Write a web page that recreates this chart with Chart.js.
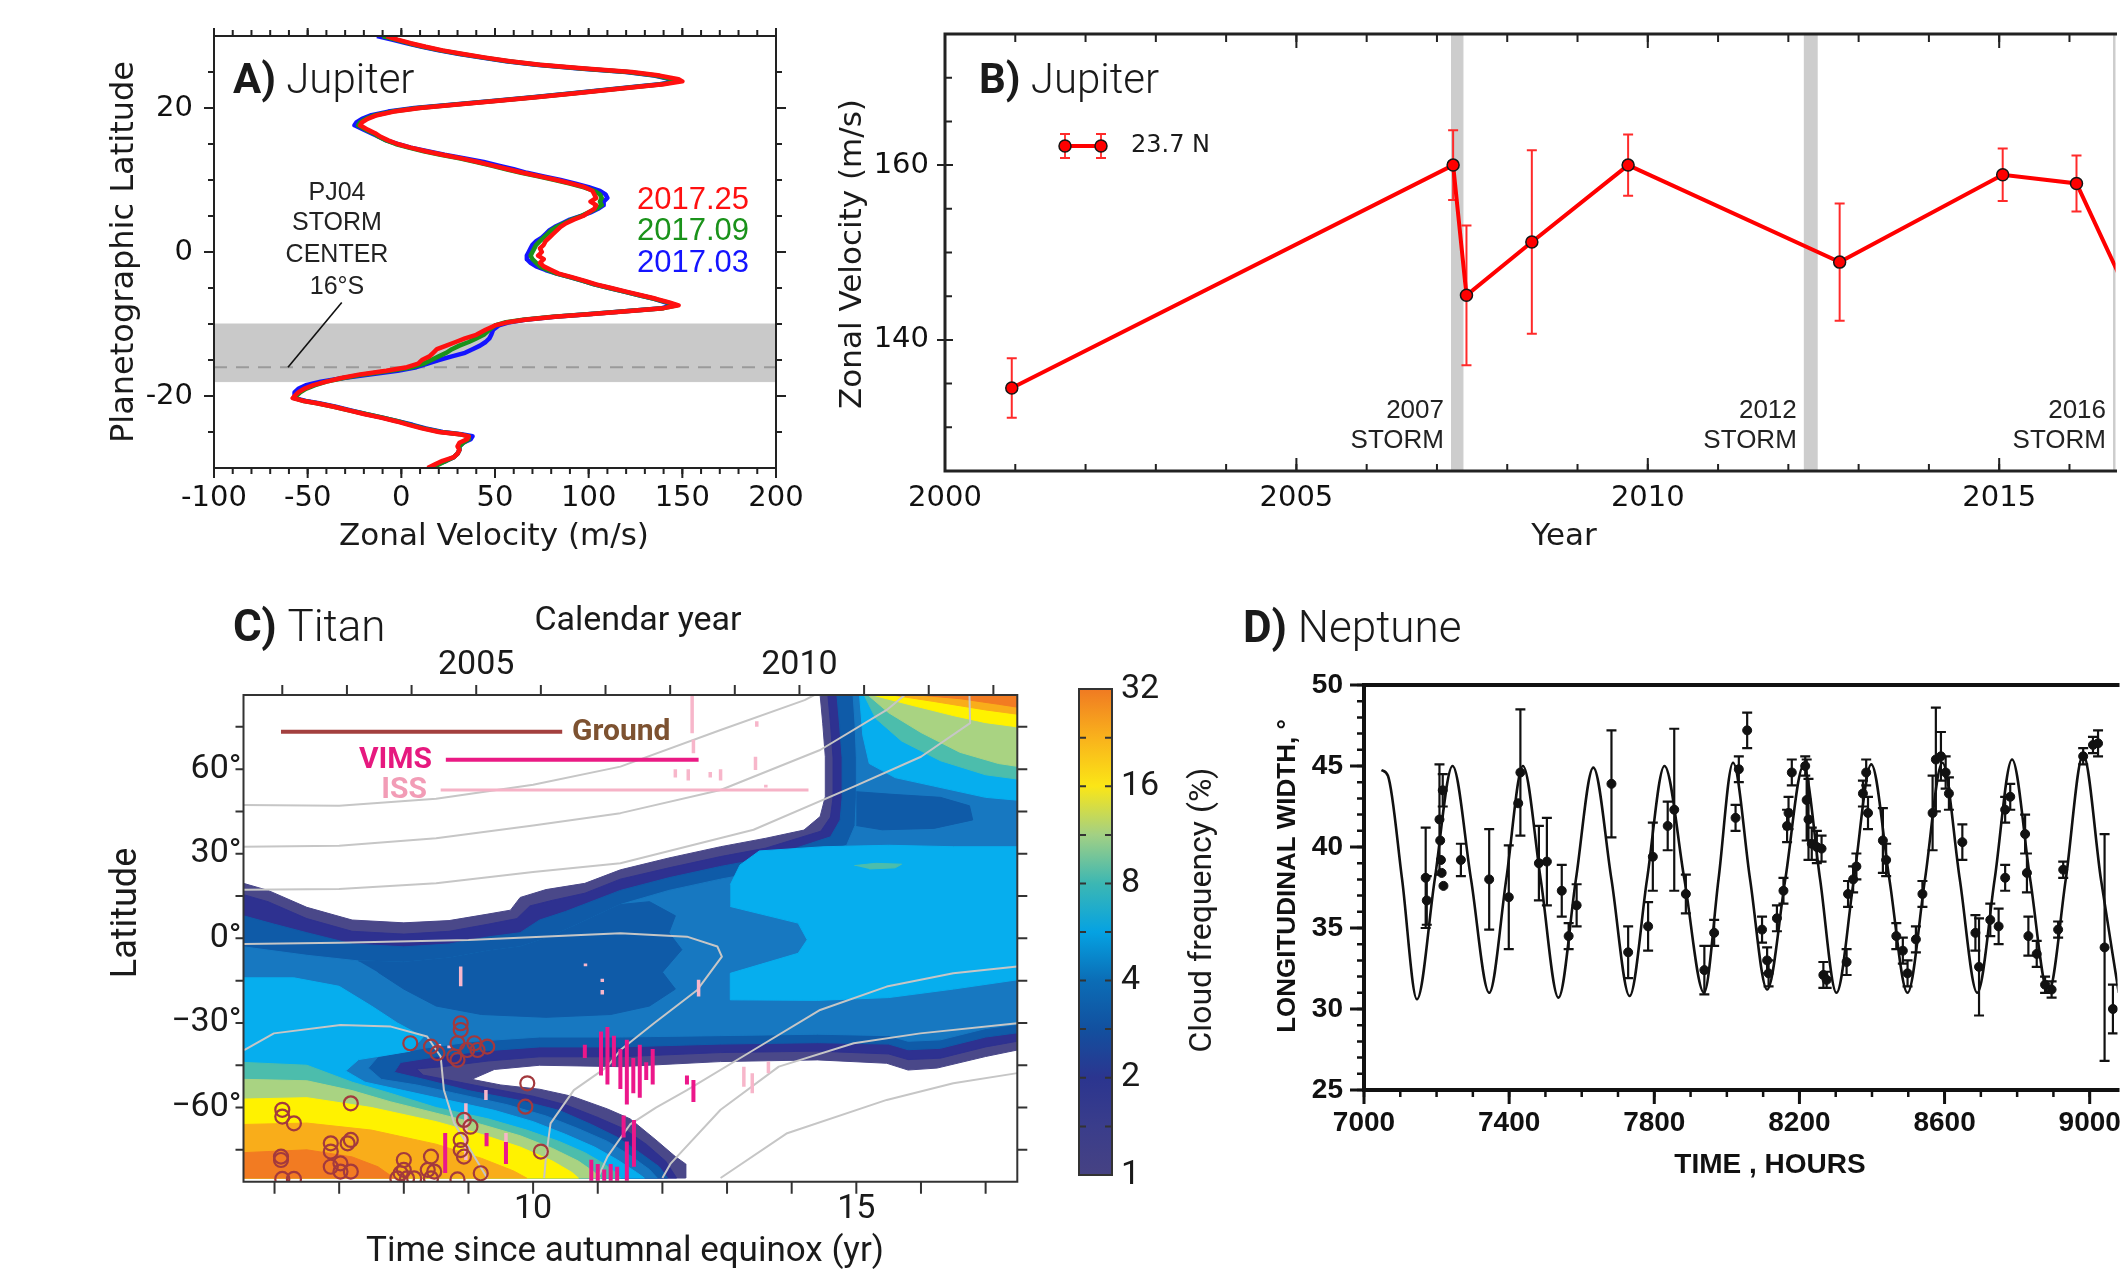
<!DOCTYPE html>
<html>
<head>
<meta charset="utf-8">
<title>Jupiter, Titan and Neptune – four panels</title>
<script src="https://cdn.jsdelivr.net/npm/chart.js@4.4.1/dist/chart.umd.min.js"></script>
<style>
  html, body { margin: 0; padding: 0; background: #ffffff; }
  body { position: relative; width: 2123px; height: 1274px; overflow: hidden; }
  canvas { position: absolute; left: 0; top: 0; }
</style>
</head>
<body>
<canvas id="chartA" width="2123" height="1274"></canvas>
<canvas id="chartB" width="2123" height="1274"></canvas>
<canvas id="chartC" width="2123" height="1274"></canvas>
<canvas id="chartCbar" width="2123" height="1274"></canvas>
<canvas id="chartD" width="2123" height="1274"></canvas>
<script>
// ====================== DATA ======================
// ---- Panel A: Jupiter zonal wind profiles (latitude vs velocity) ----
const latA = [30,29.5,29,28.5,28,27.5,27,26.5,26,25.5,
  25,24.5,24,23.7,23.3,23,22.5,22,21.5,21,
  20.5,20,19.5,19,18.5,18,17.6,17,16.5,16,
  15.5,15,14.5,14,13.5,13,12.5,12,11.5,11,
  10.5,10,9.5,9,8.5,8,7.5,7,6.5,6,
  5.5,5,4.5,4,3.5,3,2.5,2,1.5,1,
  0.5,0,-0.5,-1,-1.5,-2,-2.5,-3,-3.5,-4,
  -4.5,-5,-5.5,-6,-6.5,-7,-7.4,-7.8,-8.2,-8.6,
  -9,-9.4,-9.8,-10.2,-10.8,-11.5,-12,-12.5,-13,-13.5,
  -14,-14.5,-15,-15.5,-16,-16.5,-17,-17.5,-18,-18.5,
  -19,-19.5,-20,-20.3,-20.7,-21,-21.5,-22,-22.5,-23,
  -23.5,-24,-24.5,-25,-25.3,-25.6,-26,-26.5,-27,-27.5,
  -28,-28.5,-29,-29.5,-30];
const vel2017_25 = [-8,-2,5,13,22,33,45,58,74,98,
  123,138,148,150,140,128,110,92,72,52,
  30,10,-4,-13,-18,-21,-22,-18,-14,-11,
  -7,-2,5,13,22,32,41,49,57,65,
  74,83,91,98,102,103,104,101,104,103,
  100,97,92,88,85,83,81,79,77,76,
  74,75,73,76,74,76,80,84,91,98,
  104,112,120,128,136,143,148,140,122,102,
  82,66,56,50,45,40,34,29,24,19,
  17,15,11,9,3,-8,-22,-32,-40,-47,
  -52,-55,-57,-58,-52,-45,-36,-28,-20,-11,
  -3,4,11,20,31,36,35,31,30,31,
  30,28,22,18,14];
const vel2017_09 = [-10,-3,4,12,21,32,44,57,73,96,
  121,136,145,147,139,127,109,91,71,51,
  29,9,-5,-14,-19,-22,-23,-19,-15,-12,
  -8,-3,4,12,21,31,40,48,56,64,
  73,82,90,97,103,106,107,106,107,104,
  100,96,91,87,83,80,78,76,74,72,
  71,70,69,70,72,74,78,83,90,97,
  103,111,119,127,135,142,147,140,121,101,
  81,65,55,50,47,44,40,36,31,27,
  24,20,16,12,6,-6,-20,-31,-40,-46,
  -51,-54,-56,-57,-52,-45,-36,-28,-19,-10,
  -2,5,12,21,31,36,36,33,31,31,
  30,28,24,20,16];
const vel2017_03 = [-13,-5,3,11,20,31,43,56,72,95,
  120,135,144,146,138,126,108,90,70,50,
  28,7,-7,-16,-21,-24,-25,-20,-16,-12,
  -8,-2,5,14,23,34,44,52,60,67,
  76,85,93,100,106,109,110,108,108,105,
  101,96,90,86,82,79,77,75,72,70,
  69,68,67,67,69,72,77,83,90,97,
  103,111,119,127,135,141,145,139,121,101,
  82,66,57,52,49,48,47,45,42,38,
  34,27,20,14,8,-2,-17,-31,-43,-51,
  -55,-57,-57,-57,-51,-44,-35,-27,-19,-10,
  -2,6,13,22,32,38,37,33,31,31,
  30,28,24,19,15];
const stormBandLatA = [-18, -10];
const stormCenterLatA = -16;
const stormLeaderA = [[-31.8, -7.0], [-60.5, -16.0]];
const xRangeA = [-100, 200], yRangeA = [-30, 30];
const xTickLabelsA = [-100, -50, 0, 50, 100, 150, 200];
const yTickLabelsA = [-20, 0, 20];

// ---- Panel B: Jupiter 23.7 N jet speed vs year ----
const yearB = [2000.95, 2007.23, 2007.42, 2008.35, 2009.72, 2012.73, 2015.05, 2016.10, 2017.05];
const velB  = [134.5, 160.0, 145.1, 151.2, 160.0, 148.9, 158.9, 157.9, 141.5];
const errB  = [3.4, 4.0, 8.0, 10.5, 3.5, 6.7, 3.0, 3.2, 4.0];
const stormBandsB = [[2007.20, 2007.37], [2012.22, 2012.41], [2016.62, 2016.80]];
const stormLabelsB = ['2007', '2012', '2016'];
const xRangeB = [2000, 2016.655], yRangeB = [125, 175];
const xTickLabelsB = [2000, 2005, 2010, 2015];
const yTickLabelsB = [140, 160];

// ---- Panel C: Titan cloud frequency map (time since equinox, latitude) ----
const xRangeC = [5.52, 17.49], yRangeC = [-86.3, 86.3];
const calendarOffsetC = 1995.88;
const xTickLabelsC = [10, 15];
const calTickLabelsC = [2005, 2010];
const yTickLabelsC = [-60, -30, 0, 30, 60];
const titanColors = ['#4a4889', '#2e3190', '#0f5ba8', '#1778c1', '#06aeee',
                     '#4cbdac', '#a9d382', '#fff200', '#f9ad1a', '#f27b22'];
const titanR1 = [[5.52,19.5],[5.9,17],[6.5,11],[7.2,6.5],[8.0,5.5],[8.7,6.3],[9.3,8.6],[9.65,10],[9.8,14.5],[10.2,17.3],[10.8,19.5],[11.35,24.3],[12.1,28.5],[12.9,32.5],[13.6,35.5],[14.19,38.4],[14.44,43.2],[14.52,50.3],[14.52,64.4],[14.48,76.3],[14.44,86.3],[17.49,86.3],[17.49,-39.6],[17.0,-41.9],[16.25,-46],[15.8,-46.7],[15.47,-44.3],[14.4,-43.1],[12.9,-43.7],[11.35,-45.5],[10.1,-45],[9.4,-46.5],[9.05,-50],[9.5,-52],[10.1,-53.5],[10.6,-56],[11.15,-60.5],[11.5,-64],[11.9,-71.5],[12.2,-77.4],[12.36,-80],[12.36,-85],[5.52,-85]];
const titanR2 = [[5.52,15.5],[5.9,13],[6.5,7],[7.2,2.5],[8.0,1.5],[8.7,2.5],[9.3,5],[9.75,7],[9.95,11.5],[10.3,13.5],[10.8,16],[11.35,21],[12.1,25],[12.9,29],[13.6,32],[14.45,38],[14.6,43],[14.64,50],[14.64,64],[14.6,76],[14.56,86.3],[17.49,86.3],[17.49,-36.5],[17.0,-38.5],[16.3,-42.5],[15.8,-43],[15.5,-41],[14.4,-40],[12.9,-40.5],[11.35,-42],[10.1,-42],[9.3,-43.5],[8.6,-45.5],[8.2,-46.3],[8.3,-48.5],[8.75,-50.5],[9.3,-53],[10.0,-56],[10.5,-59],[11.0,-63.5],[11.4,-67.5],[11.75,-73],[12.05,-79],[12.22,-85],[5.52,-85]];
const titanR3 = [[5.52,8],[6.0,5],[6.5,2],[7.2,-2],[8.0,-3],[8.7,-2],[9.3,0.5],[9.8,2],[10.1,6.5],[10.5,9.5],[11.35,17],[12.1,21.5],[12.9,25.5],[13.6,28.5],[14.6,36],[14.75,42],[14.78,50],[14.78,64],[14.74,76],[14.7,86.3],[17.49,86.3],[17.49,-33.5],[17.0,-35],[16.3,-39],[15.8,-39.5],[15.5,-37.5],[14.4,-37],[12.9,-37.5],[11.35,-38.5],[10.1,-38.5],[9.2,-40],[8.5,-42],[7.95,-44],[7.85,-47.5],[8.4,-50.5],[9.0,-54],[9.8,-57.5],[10.4,-61],[10.9,-66],[11.3,-70.5],[11.65,-76],[11.95,-81],[12.08,-85],[5.52,-85]];
const titanR4 = [[5.52,-3],[6.5,-6],[7.3,-8],[8.0,-8.5],[8.7,-7],[9.3,-4.5],[9.8,-3],[10.2,0],[10.6,4],[11.35,12],[12.1,17],[12.9,21],[13.6,24],[14.85,33],[14.98,40],[15.0,50],[15.0,64],[14.98,76],[14.95,86.3],[17.49,86.3],[17.49,-30.5],[17.0,-32],[16.3,-36],[15.8,-36.5],[15.5,-34.5],[14.4,-34],[12.9,-34.5],[11.35,-35],[10.1,-35],[9.1,-36.5],[8.3,-39],[7.6,-42],[7.45,-46],[7.65,-50],[8.2,-52],[8.8,-55],[9.6,-59],[10.2,-63],[10.7,-67.5],[11.15,-72],[11.5,-77],[11.8,-82],[11.92,-85],[5.52,-85]];
const titanDarkMid = [[7.3,-8],[8.0,-8.5],[8.7,-7],[9.3,-4.5],[9.8,-3],[10.2,0],[10.6,4],[11.35,12],[11.8,13],[12.2,8],[12.1,2],[12.3,-4],[12.0,-12],[12.2,-18],[11.8,-24],[11.2,-27],[10.2,-28],[9.2,-27],[8.5,-24],[8.0,-18],[7.6,-12]];
const titanDarkTopRight = [[15.0,52],[15.6,51],[16.3,50],[16.75,47],[16.8,42],[16.2,39],[15.4,38.5],[15.0,40]];
const titanR5mid = [[13.05,19],[13.2,26],[13.5,31],[14.5,32.5],[15.5,33],[16.5,32.5],[17.49,32.5],[17.49,-14.7],[16.5,-18],[15.5,-21],[14.4,-22],[13.05,-21.8],[13.05,-12.4],[14.1,-5.3],[14.24,-0.5],[14.1,5.4],[13.05,11.3]];
const titanR5ll = [[5.52,-14],[6.3,-14],[7.0,-17],[7.5,-24],[7.9,-30],[8.3,-35],[8.1,-40],[7.3,-43],[7.1,-47],[7.4,-51],[8.0,-54],[8.6,-57],[9.4,-61],[10.0,-65],[10.5,-69.5],[10.95,-74],[11.3,-78.5],[11.6,-83],[11.72,-85],[5.52,-85]];
const titanR5tr = [[15.05,86.3],[15.1,72],[15.2,62],[15.6,57],[16.2,54],[17.0,50],[17.49,49],[17.49,86.3]];
const titanR6ll = [[5.52,-44],[6.5,-45],[7.2,-51],[7.8,-55],[8.5,-60],[9.3,-64],[9.9,-68],[10.4,-72],[10.8,-76],[11.1,-80],[11.3,-83.5],[11.35,-85],[5.52,-85]];
const titanR6tr = [[15.12,86.3],[15.3,78],[15.7,70],[16.3,63],[17.0,58],[17.49,56.5],[17.49,86.3]];
const titanR6patch = [[14.97,25.8],[15.3,26.6],[15.7,26.3],[15.6,25],[15.2,24.6]];
const titanR7ll = [[5.52,-50],[6.5,-50.5],[7.2,-54],[7.8,-58],[8.5,-62],[9.2,-66],[9.8,-70],[10.3,-74.5],[10.7,-79],[10.95,-83],[11.05,-85],[5.52,-85]];
const titanR7tr = [[15.18,86.3],[15.5,80],[16.0,73],[16.6,66],[17.2,62],[17.49,61],[17.49,86.3]];
const titanR8ll = [[5.52,-57],[6.5,-56.5],[7.5,-60],[8.5,-65],[9.2,-69.5],[9.8,-74],[10.3,-79],[10.6,-83],[10.7,-85],[5.52,-85]];
const titanR8tr = [[15.25,86.3],[15.8,83],[16.5,79],[17.0,76.5],[17.49,75],[17.49,86.3]];
const titanR9ll = [[5.52,-66],[6.5,-65.5],[7.5,-68],[8.5,-73],[9.2,-78],[9.7,-82.5],[9.9,-85],[5.52,-85]];
const titanR9tr = [[15.55,86.3],[16.2,84],[17.0,81],[17.49,79.5],[17.49,86.3]];
const titanR10ll = [[5.52,-76],[6.5,-75],[7.2,-77.5],[7.6,-81],[7.85,-85],[5.52,-85]];
const titanR10tr = [[15.95,86.3],[16.6,85],[17.2,83],[17.49,82],[17.49,86.3]];
const titanFillOrder = [
  [titanR1,0],[titanR2,1],[titanR3,2],[titanR4,3],[titanDarkMid,2],[titanDarkTopRight,2],
  [titanR5mid,4],[titanR5ll,4],[titanR5tr,4],[titanR6ll,5],[titanR6tr,5],[titanR6patch,5],
  [titanR7ll,6],[titanR7tr,6],[titanR8ll,7],[titanR8tr,7],[titanR9ll,8],[titanR9tr,8],
  [titanR10ll,9],[titanR10tr,9]];
const titanIsoA = [[5.52,47.3],[7.0,47],[8.5,49.5],[10.0,54.5],[11.35,60.9],[12.9,73.9],[14.2,84.5],[14.35,86.3]];
const titanIsoB = [[5.52,32.5],[7.0,32.8],[8.5,35.5],[10.0,40],[11.35,44.4],[12.9,52.6],[14.44,66.8],[15.47,81],[15.75,86.3]];
const titanIsoC = [[5.52,17.2],[7.0,17.5],[8.5,19.5],[10.0,23.5],[11.35,26.6],[13.41,38.5],[14.96,53.8],[16.0,64.4],[16.76,76.3],[16.75,86.3]];
const titanIsoD = [[5.52,-2],[7.0,-1.6],[9.0,-0.6],[11.35,1.8],[12.38,0.6],[12.85,-2.9],[12.92,-6.5],[12.54,-18.3],[11.87,-30.1],[11.35,-39.6],[11.15,-45.5],[10.63,-53.8],[10.27,-65.6],[10.2,-77.4],[10.17,-85]];
const titanIsoE = [[5.53,-39.6],[5.99,-33.7],[7.02,-30.7],[7.8,-31.3],[8.36,-34.8],[8.57,-41.9],[8.62,-53.8],[8.78,-65.6],[9.09,-77.4],[9.29,-85]];
const titanIsoF = [[11.0,-85],[11.15,-77.4],[11.5,-66],[11.9,-60],[12.38,-53.8],[13.41,-39.6],[14.44,-25.4],[15.47,-17.1],[16.5,-12.4],[17.49,-10]];
const titanIsoG = [[12.0,-85],[12.13,-79.8],[12.9,-60.8],[13.8,-45.5],[14.96,-37.2],[15.99,-33.7],[17.49,-30.1]];
const titanIsoH = [[12.9,-85],[13.93,-69.1],[15.47,-57.3],[16.5,-51.4],[17.49,-47.8]];
const titanIsolines = [titanIsoA, titanIsoB, titanIsoC, titanIsoD, titanIsoE, titanIsoF, titanIsoG, titanIsoH];
const titanGround = [[6.12,-60.8],[6.12,-63.2],[6.3,-65.6],[7.18,-58.5],[6.1,-77.4],[6.1,-78.6],[6.12,-85.3],[6.3,-85.3],[6.87,-72.7],[6.87,-75.6],[7.02,-79.8],[7.13,-72.7],[7.18,-71.5],[6.87,-81],[7.02,-82.7],[7.18,-82.7],[8.0,-78.6],[7.95,-83.3],[7.9,-85.1],[8.05,-85.1],[8.16,-85.1],[8.0,-82.1],[8.42,-77.4],[8.37,-82.1],[8.47,-82.7],[8.42,-85.1],[8.83,-85.5],[8.1,-37.2],[8.42,-38.4],[8.52,-40.7],[8.88,-30.1],[8.88,-32.5],[8.83,-37.2],[8.98,-39.6],[9.09,-37.2],[9.14,-39.6],[9.29,-38.4],[8.78,-41.9],[8.83,-43.1],[9.91,-51.4],[9.88,-59.7],[8.93,-64.4],[9.03,-66.8],[8.88,-71.5],[8.88,-75.1],[8.93,-77.4],[9.19,-83.3],[10.12,-75.6]];
const titanVIMS = [[11.05,-48.6,-33],[11.15,-51.8,-31.4],[11.25,-45.5,-34.5],[11.35,-53.4,-39.2],[11.45,-58.9,-36],[11.55,-54.9,-42.4],[11.65,-56.5,-37.7],[11.75,-50.2,-43.9],[11.85,-51.8,-39.2],[12.38,-51.8,-48.6],[12.48,-58,-50.2],[10.8,-42.4,-37.7],[8.64,-83.2,-69],[9.28,-73.7,-69],[9.58,-80,-72.2],[10.9,-86,-78.5],[11.0,-86,-80],[11.1,-86,-82],[11.2,-86,-80],[11.3,-86,-81],[11.4,-70.6,-62.8],[11.45,-86,-72],[11.56,-81,-64.4]];
const titanISS = [[8.88,-17,-10],[10.81,-9.9,-8.9],[11.07,-15.5,-14.3],[11.07,-19.9,-18.3],[9.27,-57.3,-53.8],[8.96,-78.6,-58.5],[9.58,-79.8,-69],[12.46,72.7,86],[12.48,65.6,70.4],[13.46,75,77],[13.44,59.7,64.4],[12.2,57,60],[12.4,56,60],[12.74,57,59],[12.9,56,60],[13.6,53.5,54.5],[12.56,-20.6,-14.7],[13.26,-52.6,-45.5],[13.39,-54.9,-47.8],[13.64,-47.8,-43.7],[8.55,-38.5,-37.5],[8.7,-39,-38]];
const titanLegendGround = [[6.10,73.3],[10.45,73.3]];
const titanLegendVIMS = [[8.65,63.3],[12.56,63.3]];
const titanLegendISS = [[8.57,52.6],[14.26,52.6]];
// colour bar (cloud frequency %, log scale)
const cbarTicks = [1, 2, 4, 8, 16, 32];
const cbarStopValues = [1, 1.41, 2, 2.83, 4, 5.66, 8, 11.3, 16, 22.6, 32];
const cbarStopColors = ['#464283', '#3a3d8b', '#2b358f', '#12509f', '#0b6db6', '#05a2e2',
                        '#3cb7b3', '#a2d084', '#fbe616', '#f9b21c', '#f07a22'];

// ---- Panel D: Neptune longitudinal width vs time ----
const xRangeD = [7000, 9076.6], yRangeD = [25, 50];
const xTickLabelsD = [7000, 7400, 7800, 8200, 8600, 9000];
const yTickLabelsD = [25, 30, 35, 40, 45, 50];
const modelTimeD = [7048,7066,7105,7146,7195,7244,7295,7345,7392,7438,7487,7536,7584,7632,7682,7732,7780,7828,7883,7937,7977,8017,8064,8111,8161,8211,8257,8302,8350,8398,8448,8498,8546,8594,8642,8690,8738,8786,8836,8886,8934,8982,9031,9080];
const modelWidthD = [44.75,44.4,38,30.6,38,45,38,31,38,45,38,30.7,38,44.9,38,30.8,38,45,38,31,38,45.2,38,31.2,38,45,38,31,38,45.1,38,31,38,45.2,38,31,38,45.4,38,31,38,45.7,38,31];
const obsTimeD = [7170,7173,7208,7210,7212,7214,7217,7219,7267,7345,7399,7425,7431,7482,7504,7545,7564,7586,7682,7728,7783,7796,7837,7855,7887,7938,7965,
  8024,8033,8056,8097,8111,8115,8138,8156,8166,8170,8179,8216,8220,8225,8234,8248,8261,8266,8275,8330,8334,8348,8357,8375,8384,8389,8430,8439,8467,8485,8498,8521,8539,
  8567,8576,8590,8603,8612,8649,8685,8695,8726,8749,8767,8767,8781,8822,8827,8831,8854,8877,8895,8913,8927,8982,9009,9023,9041,9064];
const obsWidthD = [38.1,36.7,41.7,40.4,39.2,38.4,43.5,37.6,39.2,38.0,36.9,42.7,44.6,39.0,39.1,37.3,34.5,36.4,43.9,33.5,35.1,39.4,41.3,42.3,37.1,32.4,34.7,
  41.8,44.8,47.2,34.9,33.0,32.2,35.6,37.3,41.3,42.1,44.6,45.0,42.9,41.7,40.2,40.0,39.9,32.1,31.8,32.9,37.1,38.0,38.8,43.3,44.6,42.1,40.4,39.2,34.5,33.6,32.2,34.3,37.1,
  42.1,45.4,45.6,44.6,43.3,40.3,34.7,32.6,35.5,35.1,38.1,42.3,43.1,40.8,38.4,34.5,33.4,31.5,31.2,34.9,38.6,45.6,46.3,46.4,33.8,30.0];
const obsErrD = [3.1,1.5,3.4,0,0,0,1.0,0,1.0,3.1,3.2,0,3.9,2.3,2.7,1.6,0.8,1.3,3.3,1.6,1.5,2.1,1.5,5.0,1.2,1.5,0.8,
  0.8,0.8,1.1,0.8,0.8,0.8,0.8,0.8,1.0,1.0,0.8,0.6,2.5,2.5,1.0,1.0,0.8,0.8,0.5,0.8,0.8,0.8,0.8,0.8,0.8,1.0,2.0,1.0,0.8,0.8,0.8,0.8,0.8,
  2.3,3.2,1.5,1.0,1.0,1.1,1.1,3.0,1.0,1.1,0.8,0.8,0.8,1.2,1.2,1.2,0.8,0.5,0.5,0.5,0.5,0.5,0.5,0.8,7.0,1.5];

// ====================== HELPERS ======================
const PAGE_W = 2123, PAGE_H = 1274;
const DEJAVU = "'DejaVu Sans'", LIB = "'Liberation Sans'", ROBOTO = "Roboto";
Chart.defaults.animation = false;
Chart.defaults.responsive = false;
Chart.defaults.events = [];
Chart.defaults.plugins.legend.display = false;
Chart.defaults.plugins.tooltip.enabled = false;
Chart.defaults.font.family = DEJAVU;
Chart.defaults.color = '#1a1a1a';

const range = (a, b, s) => { const r = []; for (let v = a; v <= b + 1e-9; v += s) r.push(+v.toFixed(6)); return r; };
const xy = arr => arr.map(p => ({x: p[0], y: p[1]}));
const zipXY = (xs, ys) => xs.map((x, i) => ({x, y: ys[i]}));
const fixAxis = size => s => {
  if (s.isHorizontal()) s.height = size; else s.width = size;
  s.paddingLeft = 0; s.paddingRight = 0; s.paddingTop = 0; s.paddingBottom = 0;
};
const useTicks = vals => s => { s.ticks = vals.map(v => ({value: v})); };
const f = (size, family, weight) => `${weight || 'normal'} ${size}px ${family}`;

function axis(opts) {
  return Object.assign({
    type: 'linear',
    grid: {display: false, drawTicks: false},
    border: {display: false},
  }, opts);
}

// frame + custom tick marks drawn through the chart's scales
const frameTicksPlugin = {
  id: 'frameTicks',
  afterDatasetsDraw(chart, args, o) {
    const {ctx, chartArea: a} = chart;
    ctx.save();
    ctx.lineCap = 'butt';
    (o.ticks || []).forEach(t => {
      const sc = chart.scales[t.scale];
      ctx.strokeStyle = t.color || o.color || '#222';
      ctx.lineWidth = t.width || 2;
      ctx.beginPath();
      t.values.forEach(v => {
        if (v < Math.min(sc.min, sc.max) - 1e-9 || v > Math.max(sc.min, sc.max) + 1e-9) return;
        const p = sc.getPixelForValue(v);
        const L = t.len;
        const s0 = t.dir === 'both' ? -L : 0;
        const s1 = t.dir === 'in' ? -L : L;
        if (t.side === 'bottom') { ctx.moveTo(p, a.bottom + s0); ctx.lineTo(p, a.bottom + s1); }
        if (t.side === 'top') { ctx.moveTo(p, a.top - s0); ctx.lineTo(p, a.top - s1); }
        if (t.side === 'left') { ctx.moveTo(a.left - s0, p); ctx.lineTo(a.left - s1, p); }
        if (t.side === 'right') { ctx.moveTo(a.right + s0, p); ctx.lineTo(a.right + s1, p); }
      });
      ctx.stroke();
    });
    if (o.frame) {
      ctx.strokeStyle = o.frame.color; ctx.lineWidth = o.frame.width; ctx.lineCap = 'square';
      ctx.beginPath();
      const sides = o.frame.sides;
      if (sides.includes('top')) { ctx.moveTo(a.left, a.top); ctx.lineTo(a.right, a.top); }
      if (sides.includes('bottom')) { ctx.moveTo(a.left, a.bottom); ctx.lineTo(a.right, a.bottom); }
      if (sides.includes('left')) { ctx.moveTo(a.left, a.top); ctx.lineTo(a.left, a.bottom); }
      if (sides.includes('right')) { ctx.moveTo(a.right, a.top); ctx.lineTo(a.right, a.bottom); }
      ctx.stroke();
    }
    ctx.restore();
  }
};

// free text (titles, annotations); positions in page px, or in data units when item.data is set
const textPlugin = {
  id: 'pageText',
  afterDraw(chart, args, o) {
    const ctx = chart.ctx;
    (o.items || []).forEach(it => {
      ctx.save();
      let x = it.x, y = it.y;
      if (it.data) {
        x = chart.scales[it.xAxis || 'x'].getPixelForValue(it.x);
        y = chart.scales[it.yAxis || 'y'].getPixelForValue(it.y);
      }
      ctx.translate(x, y);
      if (it.rotate) ctx.rotate(it.rotate * Math.PI / 180);
      ctx.textBaseline = 'middle';
      ctx.textAlign = 'left';
      const runs = it.runs || [{text: it.text, font: it.font, color: it.color}];
      let total = 0;
      runs.forEach(r => { ctx.font = r.font || it.font; r._w = ctx.measureText(r.text).width; total += r._w; });
      let cx = it.align === 'center' ? -total / 2 : (it.align === 'right' ? -total : 0);
      runs.forEach(r => {
        ctx.font = r.font || it.font;
        ctx.fillStyle = r.color || it.color || '#1a1a1a';
        ctx.fillText(r.text, cx, 0);
        cx += r._w;
      });
      ctx.restore();
    });
  }
};

// vertical error bars with caps, read from dataset.errorBars
const errorBarsPlugin = {
  id: 'errorBars',
  beforeDatasetDraw(chart, args) {
    const ds = chart.data.datasets[args.index];
    if (!ds.errorBars) return;
    const meta = args.meta, xs = chart.scales[meta.xAxisID], ys = chart.scales[meta.yAxisID];
    const a = chart.chartArea, ctx = chart.ctx;
    ctx.save();
    ctx.beginPath(); ctx.rect(a.left, a.top, a.right - a.left, a.bottom - a.top); ctx.clip();
    ctx.strokeStyle = ds.errorColor; ctx.lineWidth = ds.errorWidth;
    const cap = ds.errorCap;
    ctx.beginPath();
    ds.data.forEach((d, i) => {
      const e = ds.errorBars[i];
      if (!e) return;
      const x = xs.getPixelForValue(d.x);
      const yt = ys.getPixelForValue(d.y + e), yb = ys.getPixelForValue(d.y - e);
      ctx.moveTo(x, yt); ctx.lineTo(x, yb);
      ctx.moveTo(x - cap, yt); ctx.lineTo(x + cap, yt);
      ctx.moveTo(x - cap, yb); ctx.lineTo(x + cap, yb);
    });
    ctx.stroke();
    ctx.restore();
  }
};

function polygonDataset(points, color, order) {
  return {data: xy(points), showLine: true, fill: 'shape', backgroundColor: color,
          borderColor: color, borderWidth: 1, pointRadius: 0, order};
}
function lineDataset(points, color, width, order, extra) {
  return Object.assign({data: xy(points), showLine: true, fill: false, borderColor: color,
          borderWidth: width, pointRadius: 0, order, borderJoinStyle: 'round'}, extra || {});
}

// ====================== PANEL A ======================
(function () {
  const area = {x0: 214, y0: 36, x1: 776, y1: 468};
  const wL = 214, hB = 100;
  const bandPoly = [[xRangeA[0], stormBandLatA[0]], [xRangeA[1], stormBandLatA[0]], [xRangeA[1], stormBandLatA[1]], [xRangeA[0], stormBandLatA[1]]];
  const dashLine = [[xRangeA[0], stormCenterLatA], [xRangeA[1], stormCenterLatA]];
  new Chart(document.getElementById('chartA'), {
    type: 'scatter',
    data: {datasets: [
      polygonDataset(bandPoly, '#c9c9c9', 20),
      lineDataset(dashLine, '#9a9a9a', 2, 19, {borderDash: [13, 9]}),
      lineDataset(stormLeaderA, '#111111', 1.6, 18),
      {label: '2017.03', data: zipXY(vel2017_03, latA), showLine: true, borderColor: '#1414ff', borderWidth: 4.5, pointRadius: 0, order: 7, borderJoinStyle: 'round'},
      {label: '2017.09', data: zipXY(vel2017_09, latA), showLine: true, borderColor: '#1a921a', borderWidth: 4.5, pointRadius: 0, order: 6, borderJoinStyle: 'round'},
      {label: '2017.25', data: zipXY(vel2017_25, latA), showLine: true, borderColor: '#ff1010', borderWidth: 4.5, pointRadius: 0, order: 5, borderJoinStyle: 'round'},
    ]},
    options: {
      layout: {padding: {left: area.x0 - wL, top: area.y0, right: PAGE_W - area.x1, bottom: PAGE_H - area.y1 - hB}},
      scales: {
        x: axis({position: 'bottom', min: xRangeA[0], max: xRangeA[1], afterBuildTicks: useTicks(xTickLabelsA), afterFit: fixAxis(hB),
          ticks: {font: {family: DEJAVU, size: 29}, color: '#111', padding: 13, maxRotation: 0, autoSkip: false, callback: v => String(v)}}),
        y: axis({position: 'left', min: yRangeA[0], max: yRangeA[1], afterBuildTicks: useTicks(yTickLabelsA), afterFit: fixAxis(wL),
          ticks: {font: {family: DEJAVU, size: 29}, color: '#111', padding: 21, autoSkip: false, callback: v => String(v)}}),
      },
      plugins: {
        frameTicks: {
          frame: {sides: ['top', 'bottom', 'left', 'right'], color: '#222', width: 2},
          ticks: [
            {scale: 'x', side: 'bottom', values: range(-100, 200, 10), len: 6, dir: 'out'},
            {scale: 'x', side: 'bottom', values: xTickLabelsA, len: 10, dir: 'out'},
            {scale: 'x', side: 'top', values: range(-100, 200, 10), len: 6, dir: 'out'},
            {scale: 'x', side: 'top', values: xTickLabelsA, len: 8, dir: 'out'},
            {scale: 'y', side: 'left', values: range(-25, 25, 5), len: 6, dir: 'out'},
            {scale: 'y', side: 'left', values: yTickLabelsA, len: 10, dir: 'out'},
            {scale: 'y', side: 'right', values: range(-25, 25, 5), len: 6, dir: 'out'},
            {scale: 'y', side: 'right', values: yTickLabelsA, len: 10, dir: 'out'},
          ]
        },
        pageText: {items: [
          {x: 233, y: 82, runs: [{text: 'A)', font: f(42, ROBOTO, 'bold')}, {text: ' Jupiter', font: f(42, ROBOTO, '300')}], color: '#1a1a1a'},
          {x: 337, y: 193, text: 'PJ04', font: f(25, LIB), align: 'center', color: '#222'},
          {x: 337, y: 223, text: 'STORM', font: f(25, LIB), align: 'center', color: '#222'},
          {x: 337, y: 255, text: 'CENTER', font: f(25, LIB), align: 'center', color: '#222'},
          {x: 337, y: 287, text: '16°S', font: f(25, LIB), align: 'center', color: '#222'},
          {x: 693, y: 200, text: '2017.25', font: f(31, LIB), align: 'center', color: '#ff1010'},
          {x: 693, y: 231, text: '2017.09', font: f(31, LIB), align: 'center', color: '#1a921a'},
          {x: 693, y: 263, text: '2017.03', font: f(31, LIB), align: 'center', color: '#1414ff'},
          {x: 494, y: 537, text: 'Zonal Velocity (m/s)', font: f(31, DEJAVU), align: 'center'},
          {x: 125, y: 252, text: 'Planetographic Latitude', font: f(32, DEJAVU), align: 'center', rotate: -90},
        ]}
      }
    },
    plugins: [frameTicksPlugin, textPlugin, errorBarsPlugin]
  });
})();

// ====================== PANEL B ======================
(function () {
  const area = {x0: 945, y0: 34, x1: PAGE_W, y1: 471};
  const wL = 200, hB = 100;
  const legendBPlugin = {
    id: 'legendB',
    afterDraw(chart, args, o) {
      const ctx = chart.ctx, ds = chart.data.datasets[o.datasetIndex];
      ctx.save();
      ctx.strokeStyle = ds.borderColor; ctx.lineWidth = 4;
      ctx.beginPath(); ctx.moveTo(o.x1, o.y); ctx.lineTo(o.x2, o.y); ctx.stroke();
      ctx.strokeStyle = ds.errorColor; ctx.lineWidth = 1.8;
      [o.x1, o.x2].forEach(x => {
        ctx.beginPath();
        ctx.moveTo(x, o.y - o.err); ctx.lineTo(x, o.y + o.err);
        ctx.moveTo(x - 5, o.y - o.err); ctx.lineTo(x + 5, o.y - o.err);
        ctx.moveTo(x - 5, o.y + o.err); ctx.lineTo(x + 5, o.y + o.err);
        ctx.stroke();
      });
      [o.x1, o.x2].forEach(x => {
        ctx.beginPath(); ctx.arc(x, o.y, 6, 0, 2 * Math.PI);
        ctx.fillStyle = ds.pointBackgroundColor; ctx.fill();
        ctx.lineWidth = 1.5; ctx.strokeStyle = ds.pointBorderColor; ctx.stroke();
      });
      ctx.font = f(24, DEJAVU); ctx.fillStyle = '#1a1a1a'; ctx.textBaseline = 'middle';
      ctx.fillText(ds.label, o.tx, o.y);
      ctx.restore();
    }
  };
  const datasets = [{
    label: '23.7 N', data: zipXY(yearB, velB), showLine: true, borderColor: '#ff0000', borderWidth: 4,
    pointRadius: 6, pointBackgroundColor: '#ff0000', pointBorderColor: '#151515', pointBorderWidth: 1.5,
    errorBars: errB, errorColor: '#ff2a2a', errorWidth: 2, errorCap: 5, order: 1
  }];
  stormBandsB.forEach((b, i) => {
    datasets.push(polygonDataset([[b[0], yRangeB[0]], [b[1], yRangeB[0]], [b[1], yRangeB[1]], [b[0], yRangeB[1]]], '#cdcdcd', 20 + i));
  });
  const stormTexts = [];
  stormBandsB.forEach((b, i) => {
    stormTexts.push({data: true, x: b[0] - 0.1, y: 131.9, text: stormLabelsB[i], font: f(26, LIB), align: 'right', color: '#222'});
    stormTexts.push({data: true, x: b[0] - 0.1, y: 128.5, text: 'STORM', font: f(26, LIB), align: 'right', color: '#222'});
  });
  new Chart(document.getElementById('chartB'), {
    type: 'scatter',
    data: {datasets},
    options: {
      layout: {padding: {left: area.x0 - wL, top: area.y0, right: PAGE_W - area.x1, bottom: PAGE_H - area.y1 - hB}},
      scales: {
        x: axis({position: 'bottom', min: xRangeB[0], max: xRangeB[1], afterBuildTicks: useTicks(xTickLabelsB), afterFit: fixAxis(hB),
          ticks: {font: {family: DEJAVU, size: 29}, color: '#111', padding: 10, maxRotation: 0, autoSkip: false, callback: v => String(v)}}),
        y: axis({position: 'left', min: yRangeB[0], max: yRangeB[1], afterBuildTicks: useTicks(yTickLabelsB), afterFit: fixAxis(wL),
          ticks: {font: {family: DEJAVU, size: 29}, color: '#111', padding: 16, autoSkip: false, callback: v => String(v)}}),
      },
      plugins: {
        frameTicks: {
          frame: {sides: ['top', 'bottom', 'left'], color: '#222', width: 3},
          ticks: [
            {scale: 'x', side: 'bottom', values: range(2000, 2016, 1), len: 7, dir: 'in'},
            {scale: 'x', side: 'bottom', values: xTickLabelsB, len: 13, dir: 'in'},
            {scale: 'x', side: 'top', values: range(2000, 2016, 1), len: 8, dir: 'in'},
            {scale: 'x', side: 'top', values: xTickLabelsB, len: 14, dir: 'in'},
            {scale: 'y', side: 'left', values: range(130, 170, 5), len: 7, dir: 'in'},
            {scale: 'y', side: 'left', values: yTickLabelsB, len: 8, dir: 'both'},
          ]
        },
        legendB: {datasetIndex: 0, x1: 1065, x2: 1101, y: 146, err: 12, tx: 1131},
        pageText: {items: [
          {x: 979, y: 82, runs: [{text: 'B)', font: f(42, ROBOTO, 'bold')}, {text: ' Jupiter', font: f(42, ROBOTO, '300')}]},
          {x: 853, y: 254, text: 'Zonal Velocity (m/s)', font: f(31, DEJAVU), align: 'center', rotate: -90},
          {x: 1564, y: 537, text: 'Year', font: f(31, DEJAVU), align: 'center'},
        ].concat(stormTexts)}
      }
    },
    plugins: [frameTicksPlugin, textPlugin, errorBarsPlugin, legendBPlugin]
  });
})();

// ====================== PANEL C ======================
(function () {
  const area = {x0: 243.5, y0: 695, x1: 1017.3, y1: 1181.7};
  const wL = 243.5, hB = 80, hT = 60;
  const datasets = [];
  titanFillOrder.forEach((p, i) => datasets.push(polygonDataset(p[0], titanColors[p[1]], 1000 - i)));
  titanIsolines.forEach((l, i) => datasets.push(lineDataset(l, '#c6c6c6', 2, 500 - i)));
  datasets.push(lineDataset(titanLegendGround, '#a3403f', 4, 100));
  datasets.push(lineDataset(titanLegendVIMS, '#ea1a84', 4, 99));
  datasets.push(lineDataset(titanLegendISS, '#f6b2c6', 3, 98));
  const segRadius = ctx => {
    const d = ctx.raw; if (!d) return 0;
    const s = ctx.chart.scales.y;
    return Math.abs(s.getPixelForValue(d.lo) - s.getPixelForValue(d.hi)) / 2;
  };
  datasets.push({label: 'ISS', data: titanISS.map(v => ({x: v[0], y: (v[1] + v[2]) / 2, lo: v[1], hi: v[2]})),
    pointStyle: 'line', rotation: 90, pointRadius: segRadius, pointBorderColor: '#f7b6ca', pointBorderWidth: 3.5, order: 12});
  datasets.push({label: 'VIMS', data: titanVIMS.map(v => ({x: v[0], y: (v[1] + v[2]) / 2, lo: v[1], hi: v[2]})),
    pointStyle: 'line', rotation: 90, pointRadius: segRadius, pointBorderColor: '#ec178a', pointBorderWidth: 4, order: 11});
  datasets.push({label: 'Ground', data: xy(titanGround), pointStyle: 'circle', pointRadius: 7,
    pointBackgroundColor: 'rgba(0,0,0,0)', pointBorderColor: '#a3393d', pointBorderWidth: 2.2, order: 10});
  new Chart(document.getElementById('chartC'), {
    type: 'scatter',
    data: {datasets},
    options: {
      layout: {padding: {left: area.x0 - wL, top: area.y0 - hT, right: PAGE_W - area.x1, bottom: PAGE_H - area.y1 - hB}},
      scales: {
        x: axis({position: 'bottom', min: xRangeC[0], max: xRangeC[1], afterBuildTicks: useTicks(xTickLabelsC), afterFit: fixAxis(hB),
          ticks: {font: {family: ROBOTO, size: 34}, color: '#1a1a1a', padding: 7, maxRotation: 0, autoSkip: false, callback: v => String(v)}}),
        x2: axis({axis: 'x', position: 'top', min: xRangeC[0] + calendarOffsetC, max: xRangeC[1] + calendarOffsetC,
          afterBuildTicks: useTicks(calTickLabelsC), afterFit: fixAxis(hT),
          ticks: {font: {family: ROBOTO, size: 34}, color: '#1a1a1a', padding: 9, maxRotation: 0, autoSkip: false, callback: v => String(v)}}),
        y: axis({position: 'left', min: yRangeC[0], max: yRangeC[1], afterBuildTicks: useTicks(yTickLabelsC), afterFit: fixAxis(wL),
          ticks: {font: {family: ROBOTO, size: 34}, color: '#1a1a1a', padding: 2, autoSkip: false,
            callback: v => (v < 0 ? '\u2212' + Math.abs(v) : String(v)) + '°'}}),
      },
      plugins: {
        frameTicks: {
          frame: {sides: ['top', 'bottom', 'left', 'right'], color: '#333', width: 2},
          ticks: [
            {scale: 'x', side: 'bottom', values: range(6, 17, 1), len: 12, dir: 'out', color: '#333'},
            {scale: 'x2', side: 'top', values: range(2002, 2013, 1), len: 10, dir: 'out', color: '#333'},
            {scale: 'y', side: 'left', values: range(-75, 75, 15), len: 8, dir: 'out', color: '#333'},
            {scale: 'y', side: 'right', values: range(-75, 75, 15), len: 10, dir: 'out', color: '#333'},
          ]
        },
        pageText: {items: [
          {x: 233, y: 630, runs: [{text: 'C)', font: f(44, ROBOTO, 'bold')}, {text: ' Titan', font: f(44, ROBOTO, '300')}]},
          {x: 638, y: 621, text: 'Calendar year', font: f(34, ROBOTO), align: 'center'},
          {x: 625, y: 1252, text: 'Time since autumnal equinox (yr)', font: f(35, ROBOTO), align: 'center'},
          {x: 127, y: 913, text: 'Latitude', font: f(36, ROBOTO), align: 'center', rotate: -90},
          {x: 572, y: 732, text: 'Ground', font: f(30, ROBOTO, 'bold'), color: '#7d5231'},
          {x: 432, y: 760, text: 'VIMS', font: f(30, ROBOTO, 'bold'), align: 'right', color: '#e6197f'},
          {x: 427, y: 790, text: 'ISS', font: f(30, ROBOTO, 'bold'), align: 'right', color: '#f29cb6'},
        ]}
      }
    },
    plugins: [frameTicksPlugin, textPlugin]
  });
})();

// ---- Panel C colour bar ----
(function () {
  const area = {x0: 1079, y0: 689, x1: 1112, y1: 1175};
  const wR = 100;
  const gradient = ctx => {
    const chart = ctx.chart, a = chart.chartArea;
    if (!a) return cbarStopColors[0];
    const ys = chart.scales.y;
    const top = ys.getPixelForValue(cbarTicks[cbarTicks.length - 1]), bot = ys.getPixelForValue(cbarTicks[0]);
    const g = chart.ctx.createLinearGradient(0, bot, 0, top);
    cbarStopValues.forEach((v, i) => g.addColorStop((ys.getPixelForValue(v) - bot) / (top - bot), cbarStopColors[i]));
    return g;
  };
  new Chart(document.getElementById('chartCbar'), {
    type: 'bar',
    data: {labels: ['cloud frequency'], datasets: [{data: [[cbarTicks[0], cbarTicks[cbarTicks.length - 1]]], backgroundColor: gradient,
      borderWidth: 0, barPercentage: 1, categoryPercentage: 1}]},
    options: {
      layout: {padding: {left: area.x0, top: area.y0, right: PAGE_W - area.x1 - wR, bottom: PAGE_H - area.y1}},
      scales: {
        x: {display: false},
        y: axis({type: 'logarithmic', position: 'right', min: 1, max: 32, afterBuildTicks: useTicks(cbarTicks), afterFit: fixAxis(wR),
          ticks: {font: {family: ROBOTO, size: 34}, color: '#1a1a1a', padding: 9, autoSkip: false, callback: v => String(v)}}),
      },
      plugins: {
        frameTicks: {
          frame: {sides: ['top', 'bottom', 'left', 'right'], color: '#333', width: 2},
          ticks: [
            {scale: 'y', side: 'left', values: [1.414, 2, 2.83, 4, 5.66, 8, 11.3, 16, 22.6], len: 7, dir: 'in', color: '#333'},
            {scale: 'y', side: 'right', values: [1.414, 2, 2.83, 4, 5.66, 8, 11.3, 16, 22.6], len: 7, dir: 'in', color: '#333'},
          ]
        },
        pageText: {items: [
          {x: 1203, y: 910, text: 'Cloud frequency (%)', font: f(32, ROBOTO), align: 'center', rotate: -90},
        ]}
      }
    },
    plugins: [frameTicksPlugin, textPlugin]
  });
})();

// ====================== PANEL D ======================
(function () {
  const area = {x0: 1364, y0: 685, x1: PAGE_W, y1: 1090};
  const wL = 200, hB = 80;
  new Chart(document.getElementById('chartD'), {
    type: 'scatter',
    data: {datasets: [
      {label: 'model', data: zipXY(modelTimeD, modelWidthD), showLine: true, borderColor: '#111', borderWidth: 2.6,
        pointRadius: 0, cubicInterpolationMode: 'monotone', order: 5},
      {label: 'observed', data: zipXY(obsTimeD, obsWidthD), pointRadius: 4.5, pointBackgroundColor: '#111', pointBorderColor: '#111',
        pointBorderWidth: 1, errorBars: obsErrD, errorColor: '#111', errorWidth: 2.2, errorCap: 5, order: 4},
    ]},
    options: {
      layout: {padding: {left: area.x0 - wL, top: area.y0, right: PAGE_W - area.x1, bottom: PAGE_H - area.y1 - hB}},
      scales: {
        x: axis({position: 'bottom', min: xRangeD[0], max: xRangeD[1], afterBuildTicks: useTicks(xTickLabelsD), afterFit: fixAxis(hB),
          ticks: {font: {family: LIB, size: 28, weight: 'bold'}, color: '#111', padding: 16, maxRotation: 0, autoSkip: false, callback: v => String(v)}}),
        y: axis({position: 'left', min: yRangeD[0], max: yRangeD[1], afterBuildTicks: useTicks(yTickLabelsD), afterFit: fixAxis(wL),
          ticks: {font: {family: LIB, size: 28, weight: 'bold'}, color: '#111', padding: 21, autoSkip: false, callback: v => String(v)}}),
      },
      plugins: {
        frameTicks: {
          frame: {sides: ['top', 'bottom', 'left'], color: '#111', width: 4},
          ticks: [
            {scale: 'x', side: 'bottom', values: range(7000, 9000, 100), len: 7, dir: 'out', color: '#111', width: 2.5},
            {scale: 'x', side: 'bottom', values: xTickLabelsD, len: 14, dir: 'out', color: '#111', width: 3},
            {scale: 'y', side: 'left', values: range(25, 50, 1), len: 7, dir: 'out', color: '#111', width: 2.5},
            {scale: 'y', side: 'left', values: yTickLabelsD, len: 14, dir: 'out', color: '#111', width: 3},
          ]
        },
        pageText: {items: [
          {x: 1243, y: 631, runs: [{text: 'D)', font: f(44, ROBOTO, 'bold')}, {text: ' Neptune', font: f(44, ROBOTO, '300')}]},
          {x: 1288, y: 876, text: 'LONGITUDINAL WIDTH, °', font: f(26, LIB, 'bold'), align: 'center', rotate: -90, color: '#111'},
          {x: 1770, y: 1165, text: 'TIME , HOURS', font: f(28, LIB, 'bold'), align: 'center', color: '#111'},
        ]}
      }
    },
    plugins: [frameTicksPlugin, textPlugin, errorBarsPlugin]
  });
})();
</script>
</body>
</html>
